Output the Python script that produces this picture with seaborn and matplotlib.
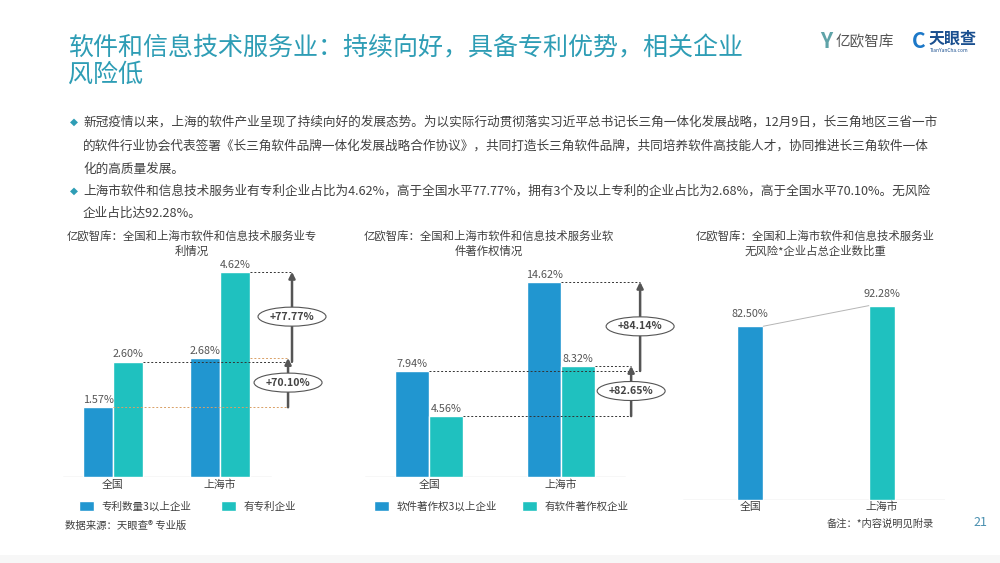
import matplotlib
matplotlib.use("Agg")
import matplotlib.pyplot as plt
from matplotlib.patches import Ellipse, Rectangle
import seaborn as sns
import pandas as pd

# ---- data ----
regions = ["全国", "上海市"]

patent_series = ["专利数量3以上企业", "有专利企业"]
patent_3plus = [1.57, 2.68]
patent_any = [2.60, 4.62]
patent_growth = ["+70.10%", "+77.77%"]

copyright_series = ["软件著作权3以上企业", "有软件著作权企业"]
copyright_3plus = [7.94, 14.62]
copyright_any = [4.56, 8.32]
copyright_growth = ["+84.14%", "+82.65%"]

norisk_values = [82.50, 92.28]

BLUE = "#2196d0"
TEAL = "#1fc1bf"
TITLE_C = "#2e9db5"
TXT = "#404040"
ARROW_C = "#555555"

sns.set_theme(style="white")
plt.rcParams["font.family"] = ["Noto Sans CJK SC", "DejaVu Sans"]

W, H = 1000, 563
fig = plt.figure(figsize=(10, 5.63), dpi=100)
fig.patch.set_facecolor("white")


def fx(px):
    return px / W


def fy(py):
    return 1 - py / H


def axes_px(left, top, right, bottom):
    return fig.add_axes([fx(left), fy(bottom), (right - left) / W, (bottom - top) / H])


def scales(ax, left, top, right, bottom):
    x0, x1 = ax.get_xlim()
    y0, y1 = ax.get_ylim()
    return (right - left) / (x1 - x0), (bottom - top) / (y1 - y0)


def style_ax(ax, baseline_frac):
    for s in ax.spines.values():
        s.set_visible(False)
    ax.set_yticks([])
    ax.set_xlabel("")
    ax.set_ylabel("")
    ax.tick_params(axis="x", length=0, pad=2, labelsize=7.8, labelcolor=TXT)
    ax.axhline(0, xmin=0, xmax=baseline_frac, color="#d9d9d9", lw=1, zorder=0.5)
    ax.set_facecolor("none")


def grow_arrow(ax, x, lo, hi, label, sx, sy):
    ax.annotate("", xy=(x, hi), xytext=(x, lo),
                arrowprops=dict(arrowstyle="-|>", color=ARROW_C, lw=1.8,
                                mutation_scale=9, shrinkA=0, shrinkB=0), zorder=3)
    cy = (lo + hi) / 2
    ax.add_patch(Ellipse((x, cy), width=68 / sx, height=19 / sy, facecolor="white",
                         edgecolor="#555555", lw=0.8, zorder=4))
    ax.text(x, cy, label, ha="center", va="center", fontsize=7.6, fontweight="bold",
            color="#444444", zorder=5)


# ---- header ----
fig.text(fx(68), fy(48), "软件和信息技术服务业：持续向好，具备专利优势，相关企业",
         fontsize=18, color=TITLE_C, va="center")
fig.text(fx(68), fy(75), "风险低", fontsize=18, color=TITLE_C, va="center")

fig.text(fx(820), fy(41), "Y", fontsize=15, fontweight="bold", color="#5fa3a8", va="center")
fig.text(fx(836), fy(42), "亿欧智库", fontsize=10.5, color="#555555", va="center")
fig.text(fx(912), fy(41), "C", fontsize=15, fontweight="bold", color="#1c78c8", va="center")
fig.text(fx(929), fy(39), "天眼查", fontsize=11.5, fontweight="bold", color="#1a4f8f", va="center")
fig.text(fx(930), fy(51), "TianYanCha.com", fontsize=3.5, color="#1a4f8f", va="center")

bullets = [
    (122, True, "新冠疫情以来，上海的软件产业呈现了持续向好的发展态势。为以实际行动贯彻落实习近平总书记长三角一体化发展战略，12月9日，长三角地区三省一市"),
    (146, False, "的软件行业协会代表签署《长三角软件品牌一体化发展战略合作协议》，共同打造长三角软件品牌，共同培养软件高技能人才，协同推进长三角软件一体"),
    (169, False, "化的高质量发展。"),
    (191, True, "上海市软件和信息技术服务业有专利企业占比为4.62%，高于全国水平77.77%，拥有3个及以上专利的企业占比为2.68%，高于全国水平70.10%。无风险"),
    (213, False, "企业占比达92.28%。"),
]
for y, mark, line in bullets:
    if mark:
        fig.text(fx(70), fy(y), "◆", fontsize=7.5, color=TITLE_C, va="center",
                 family=["DejaVu Sans"])
    fig.text(fx(83), fy(y), line, fontsize=9.1, color=TXT, va="center")

# ---- chart 1: patents ----
fig.text(fx(192), fy(236), "亿欧智库：全国和上海市软件和信息技术服务业专", fontsize=8.2,
         color=TXT, ha="center", va="center")
fig.text(fx(192), fy(251), "利情况", fontsize=8.2, color=TXT, ha="center", va="center")

df1 = pd.DataFrame({
    "region": regions * 2,
    "series": [patent_series[0]] * 2 + [patent_series[1]] * 2,
    "value": patent_3plus + patent_any,
})
L1, T1, R1, B1 = 63, 262, 330, 477
ax1 = axes_px(L1, T1, R1, B1)
w1 = 0.56
sns.barplot(data=df1, x="region", y="value", hue="series", order=regions,
            hue_order=patent_series, palette=[BLUE, TEAL], width=w1,
            saturation=1, ax=ax1)
ax1.set_xlim(-0.467, 2.028)
ax1.set_ylim(0, 4.84)
style_ax(ax1, 0.78)
for c in ax1.containers:
    ax1.bar_label(c, fmt="%.2f%%", padding=1.5, fontsize=7.8, color="#555555")
h, l = ax1.get_legend_handles_labels()
ax1.get_legend().remove()
fig.legend(h, l, loc="center left", bbox_to_anchor=(fx(69), fy(506)), ncol=2,
           frameon=False, fontsize=7.6, handlelength=1.45, handleheight=1.2,
           handletextpad=0.7, columnspacing=2.8, labelcolor=TXT)
sx1, sy1 = scales(ax1, L1, T1, R1, B1)
hw = w1 / 2
xa_up, xa_lo = 1.673, 1.636
ax1.hlines(patent_any[0], 0 + hw, xa_up, colors="#333333", linestyles=(0, (2, 2)), lw=0.7)
ax1.hlines(patent_any[1], 1 + hw, xa_up, colors="#333333", linestyles=(0, (2, 2)), lw=0.7)
ax1.hlines(patent_3plus[0], 0, xa_lo, colors="#d9a066", linestyles=(0, (2, 2)), lw=0.7)
ax1.hlines(patent_3plus[1], 1 + hw, xa_lo, colors="#d9a066", linestyles=(0, (2, 2)), lw=0.7)
grow_arrow(ax1, xa_lo, patent_3plus[0], patent_3plus[1], patent_growth[0], sx1, sy1)
grow_arrow(ax1, xa_up, patent_any[0], patent_any[1], patent_growth[1], sx1, sy1)

fig.text(fx(65), fy(526), "数据来源：天眼查® 专业版", fontsize=7.5, color=TXT, va="center")

# ---- chart 2: software copyrights ----
fig.text(fx(489), fy(236), "亿欧智库：全国和上海市软件和信息技术服务业软", fontsize=8.2,
         color=TXT, ha="center", va="center")
fig.text(fx(489), fy(251), "件著作权情况", fontsize=8.2, color=TXT, ha="center", va="center")

df2 = pd.DataFrame({
    "region": regions * 2,
    "series": [copyright_series[0]] * 2 + [copyright_series[1]] * 2,
    "value": copyright_3plus + copyright_any,
})
L2, T2, R2, B2 = 365, 262, 680, 477
ax2 = axes_px(L2, T2, R2, B2)
w2 = 0.515
sns.barplot(data=df2, x="region", y="value", hue="series", order=regions,
            hue_order=copyright_series, palette=[BLUE, TEAL], width=w2,
            saturation=1, ax=ax2)
ax2.set_xlim(-0.485, 1.90)
ax2.set_ylim(0, 16.1)
style_ax(ax2, 0.825)
for c in ax2.containers:
    ax2.bar_label(c, fmt="%.2f%%", padding=1.5, fontsize=7.8, color="#555555")
h, l = ax2.get_legend_handles_labels()
ax2.get_legend().remove()
fig.legend(h, l, loc="center left", bbox_to_anchor=(fx(364), fy(506)), ncol=2,
           frameon=False, fontsize=7.6, handlelength=1.45, handleheight=1.2,
           handletextpad=0.7, columnspacing=2.4, labelcolor=TXT)
sx2, sy2 = scales(ax2, L2, T2, R2, B2)
hw = w2 / 2
xb_up, xb_lo = 1.598, 1.53
ax2.hlines(copyright_3plus[1], 1, xb_up, colors="#333333", linestyles=(0, (2, 2)), lw=0.7)
ax2.hlines(copyright_3plus[0], 0, xb_up, colors="#333333", linestyles=(0, (2, 2)), lw=0.7)
ax2.hlines(copyright_any[1], 1 + hw, xb_lo, colors="#333333", linestyles=(0, (2, 2)), lw=0.7)
ax2.hlines(copyright_any[0], 0 + hw, xb_lo, colors="#333333", linestyles=(0, (2, 2)), lw=0.7)
grow_arrow(ax2, xb_up, copyright_3plus[0], copyright_3plus[1], copyright_growth[0], sx2, sy2)
grow_arrow(ax2, xb_lo, copyright_any[0], copyright_any[1], copyright_growth[1], sx2, sy2)

# ---- chart 3: no-risk share ----
fig.text(fx(815), fy(236), "亿欧智库：全国和上海市软件和信息技术服务业", fontsize=8.2,
         color=TXT, ha="center", va="center")
fig.text(fx(815), fy(251), "无风险*企业占总企业数比重", fontsize=8.2, color=TXT,
         ha="center", va="center")

L3, T3, R3, B3 = 683, 262, 945, 500
ax3 = axes_px(L3, T3, R3, B3)
w3 = 0.2
sns.barplot(x=regions, y=norisk_values, hue=regions, palette=[BLUE, TEAL],
            width=w3, saturation=1, legend=False, ax=ax3)
ax3.set_xlim(-0.508, 1.477)
ax3.set_ylim(0, 113)
style_ax(ax3, 1.0)
ax3.tick_params(axis="x", pad=1)
for c in ax3.containers:
    ax3.bar_label(c, fmt="%.2f%%", padding=5, fontsize=7.8, color="#555555")
ax3.plot([w3 / 2, 1 - w3 / 2], norisk_values, color="#b5b5b5", lw=0.7, zorder=3)

fig.text(fx(827), fy(524), "备注：*内容说明见附录", fontsize=7.4, color=TXT, va="center")
fig.text(fx(973), fy(523), "21", fontsize=9, color="#4a90b0", va="center")

fig.add_artist(Rectangle((0, 0), 1, 8 / H, transform=fig.transFigure,
                         facecolor="#f7f7f7", edgecolor="none", zorder=-1))

fig.savefig("out.png", dpi=100)
